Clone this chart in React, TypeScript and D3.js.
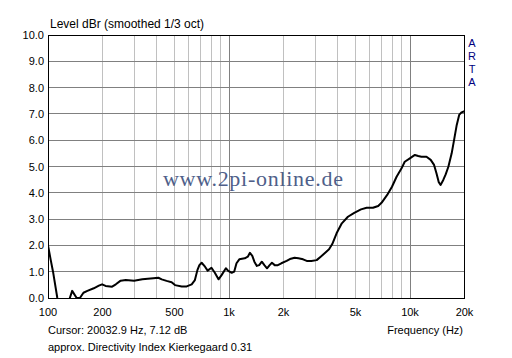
import React from "react";
import * as d3 from "d3";

const freqs = [100, 103.5, 106.6, 112.6, 118, 126, 132, 136, 144, 150, 157, 165, 179, 191, 199, 208, 226, 237, 252, 269, 299, 332, 382, 407, 425, 452, 482, 503, 548, 584, 622, 648, 669, 686, 706, 737, 762, 800, 835, 875, 910, 961, 990, 1035, 1068, 1100, 1140, 1222, 1270, 1305, 1345, 1381, 1425, 1468, 1518, 1568, 1622, 1677, 1727, 1788, 1862, 1946, 2082, 2170, 2305, 2418, 2565, 2688, 2850, 3050, 3210, 3400, 3570, 3720, 3930, 4200, 4540, 4920, 5360, 5760, 6240, 6670, 6960, 7480, 7950, 8430, 8980, 9350, 9980, 10640, 11100, 11550, 12330, 13010, 13580, 14000, 14420, 14750, 15270, 15740, 16290, 16990, 17580, 18120, 18690, 19240, 20000];
const levels = [2.0, 1.45, 1.0, 0.0, -0.4, -0.4, 0.0, 0.27, 0.0, 0.0, 0.2, 0.27, 0.37, 0.47, 0.52, 0.46, 0.43, 0.52, 0.66, 0.68, 0.66, 0.71, 0.75, 0.77, 0.71, 0.65, 0.6, 0.49, 0.44, 0.44, 0.52, 0.68, 1.06, 1.25, 1.34, 1.19, 1.04, 1.15, 0.96, 0.71, 0.87, 1.13, 1.03, 0.96, 1.0, 1.32, 1.47, 1.51, 1.57, 1.72, 1.6, 1.38, 1.22, 1.25, 1.38, 1.25, 1.13, 1.25, 1.34, 1.25, 1.25, 1.32, 1.41, 1.48, 1.53, 1.51, 1.47, 1.41, 1.41, 1.44, 1.57, 1.72, 1.85, 2.05, 2.46, 2.84, 3.09, 3.24, 3.37, 3.43, 3.43, 3.5, 3.62, 3.92, 4.23, 4.61, 4.93, 5.18, 5.31, 5.44, 5.4, 5.37, 5.37, 5.25, 5.06, 4.74, 4.4, 4.3, 4.49, 4.7, 4.99, 5.5, 6.07, 6.58, 6.96, 7.06, 7.1];

const gridFreqs = [200, 300, 400, 500, 600, 700, 800, 900, 1000, 2000, 3000, 4000, 5000, 6000, 7000, 8000, 9000, 10000];
const majorFreqs = [1000, 10000];
const xTickValues = [100, 200, 500, 1000, 2000, 5000, 10000, 20000];
const xTickLabels = ["100", "200", "500", "1k", "2k", "5k", "10k", "20k"];
const yTicks = [0, 1, 2, 3, 4, 5, 6, 7, 8, 9, 10];

const L = 48, R = 464.5, T = 35, B = 298;
const font = "'Liberation Sans', Arial, sans-serif";

export default function App() {
  const x = d3.scaleLog().domain([100, 20000]).range([L, R]);
  const y = d3.scaleLinear().domain([0, 10]).range([B, T]);
  const pts = freqs.map((f, i) => [f, levels[i]] as [number, number]);
  const line = d3.line<[number, number]>().x(d => x(d[0])).y(d => y(d[1]));
  return (
    <svg width={512} height={358} style={{ position: "absolute", left: 0, top: 0, background: "#fff" }}>
      <defs>
        <clipPath id="plot"><rect x={L} y={T} width={R - L} height={B - T} /></clipPath>
      </defs>
      <rect x={0} y={0} width={512} height={358} fill="#fff" />
      {gridFreqs.map(f => (
        <line key={"v" + f} x1={x(f)} x2={x(f)} y1={T} y2={B}
          stroke={majorFreqs.includes(f) ? "#808080" : "#c0c0c0"} strokeWidth={1}
          shapeRendering="crispEdges" />
      ))}
      {yTicks.slice(1, -1).map(v => (
        <line key={"h" + v} x1={L} x2={R} y1={y(v)} y2={y(v)} stroke="#808080" strokeWidth={1} shapeRendering="crispEdges" />
      ))}
      <text x={163} y={186} fontFamily="'Liberation Serif', 'Times New Roman', serif" fontSize={22}
        fill="#4f5f8a" textLength={180} lengthAdjust="spacing">www.2pi-online.de</text>
      <path d={line(pts) || ""} fill="none" stroke="#000" strokeWidth={2} clipPath="url(#plot)" strokeLinejoin="round" />
      <rect x={L} y={T} width={R - L} height={B - T} fill="none" stroke="#000" strokeWidth={1} shapeRendering="crispEdges" />
      <text x={50} y={28} fontFamily={font} fontSize={12} fill="#000">Level dBr (smoothed 1/3 oct)</text>
      {yTicks.map(v => (
        <text key={"yl" + v} x={44} y={y(v) + 4} textAnchor="end" fontFamily={font} fontSize={11} fill="#000">{v.toFixed(1)}</text>
      ))}
      {xTickValues.map((f, i) => (
        <text key={"xl" + f} x={x(f)} y={316} textAnchor="middle" fontFamily={font} fontSize={11} fill="#000">{xTickLabels[i]}</text>
      ))}
      {["A", "R", "T", "A"].map((c, i) => (
        <text key={"a" + i} x={472} y={47 + i * 13} textAnchor="middle" fontFamily={font} fontSize={11} fill="#000080">{c}</text>
      ))}
      <text x={48} y={334} fontFamily={font} fontSize={11} fill="#000">Cursor: 20032.9 Hz, 7.12 dB</text>
      <text x={463} y={334} textAnchor="end" fontFamily={font} fontSize={11} fill="#000">Frequency (Hz)</text>
      <text x={48} y={351} fontFamily={font} fontSize={11} fill="#000">approx. Directivity Index Kierkegaard 0.31</text>
    </svg>
  );
}
